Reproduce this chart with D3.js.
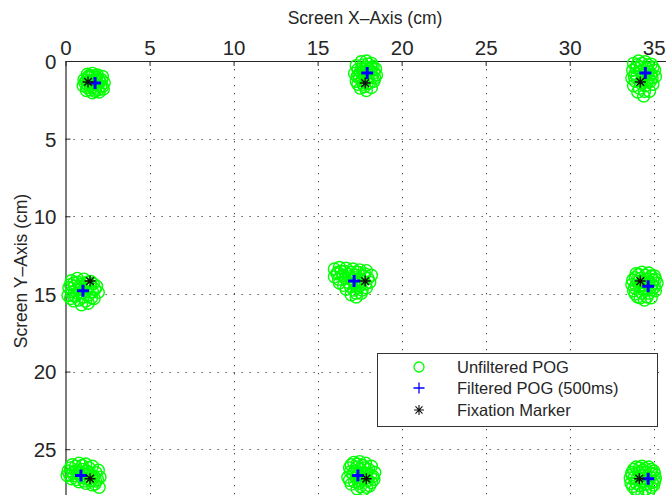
<!DOCTYPE html>
<html>
<head>
<meta charset="utf-8">
<script src="https://cdn.jsdelivr.net/npm/d3@7"></script>
<style>
  html, body { margin: 0; padding: 0; background: #fff; }
  svg { display: block; font-family: "Liberation Sans", Arial, sans-serif; }
</style>
</head>
<body>
<svg id="chart" width="666" height="495"></svg>
<script>
// Gaze samples on a 3x3 calibration grid (screen coordinates in cm)
const xTicks = [0, 5, 10, 15, 20, 25, 30, 35];
const yTicks = [0, 5, 10, 15, 20, 25];

const rawTopLeft = [[1.1,1.2],[1.3,0.85],[1.6,0.8],[1.9,0.9],[2.2,1.0],[2.3,1.4],[2.25,1.8],[2.0,2.0],[1.6,2.05],[1.25,1.9],[1.05,1.6],[1.4,1.3],[1.7,1.2],[1.9,1.5],[1.5,1.6],[1.8,1.75],[2.0,1.2],[1.35,1.05],[1.15,1.4],[1.65,1.45],[2.1,1.6],[1.45,1.85],
  [1.3,1.5],[1.55,1.0],[1.75,0.95],[2.05,1.35],[1.85,1.3],[1.6,1.3],[1.3,1.7],[1.75,1.95],[2.15,1.2],[1.25,1.25],[1.5,1.45],[1.95,1.85],[1.4,0.95],[2.2,1.65],[1.6,1.7],[1.85,1.05]];
const rawTopMid = [[17.3,0.3],[17.6,0.05],[17.9,0.0],[18.2,0.15],[18.45,0.5],[18.5,0.9],[18.35,1.3],[18.2,1.7],[17.9,1.9],[17.55,1.75],[17.3,1.3],[17.2,0.8],[17.6,0.5],[17.9,0.4],[18.15,0.7],[17.75,0.9],[18.0,1.1],[17.5,1.1],[18.1,1.4],[17.7,1.5],[17.85,0.7],[18.3,0.35],
  [17.4,0.55],[17.45,0.9],[17.7,0.25],[18.0,0.2],[18.35,0.75],[18.25,1.05],[17.65,1.25],[17.95,1.45],[17.4,1.5],[18.05,0.55],[17.8,1.65],[17.55,0.7],[18.4,1.1],[17.35,1.0],[18.2,0.45],[17.75,0.55]];
const rawTopRight = [[33.8,0.15],[34.1,0.0],[34.5,0.05],[34.85,0.2],[35.05,0.6],[35.1,1.0],[34.95,1.5],[34.75,1.95],[34.4,2.25],[34.05,2.0],[33.8,1.6],[33.7,1.1],[33.75,0.6],[34.2,0.4],[34.6,0.5],[34.4,0.9],[34.0,1.0],[34.7,1.1],[34.2,1.4],[34.5,1.6],[34.85,0.85],[33.95,0.45],
  [33.9,0.8],[34.3,0.15],[34.65,0.25],[34.95,0.4],[34.25,0.65],[33.9,1.3],[34.3,1.15],[34.6,1.35],[34.8,1.3],[34.15,1.75],[34.45,1.95],[34.7,0.7],[34.0,0.25],[34.55,0.85],[33.85,1.0],[34.9,1.1]];
const rawMidLeft = [[0.2,14.6],[0.35,14.15],[0.7,14.0],[1.1,14.05],[1.5,14.2],[1.85,14.5],[1.95,14.9],[1.7,15.3],[1.35,15.6],[0.95,15.7],[0.5,15.45],[0.15,15.1],[0.55,14.5],[0.9,14.4],[1.3,14.6],[1.6,14.85],[0.7,14.95],[1.05,15.2],[1.4,15.05],[0.4,14.85],[0.85,14.7],[1.2,14.35],
  [0.3,14.4],[0.45,15.1],[0.75,14.25],[1.0,14.6],[1.25,14.85],[1.5,14.45],[1.75,14.7],[1.55,15.25],[1.2,15.45],[0.8,15.4],[0.3,15.3],[0.6,15.15],[1.0,14.9],[1.65,14.35],[0.5,14.3],[1.3,14.25]];
const rawCenter = [[16.0,13.4],[16.3,13.3],[16.7,13.35],[17.1,13.4],[17.5,13.45],[17.9,13.5],[18.2,13.8],[18.1,14.25],[17.9,14.6],[17.6,14.95],[17.3,15.2],[17.0,15.05],[16.7,14.7],[16.3,14.3],[16.0,13.9],[16.5,13.8],[16.9,13.9],[17.3,13.8],[17.6,14.1],[17.2,14.3],[16.8,14.25],[17.4,14.6],[17.75,13.85],[16.4,13.55],
  [16.2,13.6],[16.6,13.55],[17.0,13.6],[17.4,13.6],[17.8,13.7],[18.0,14.0],[17.85,14.35],[17.55,14.45],[17.15,14.75],[16.95,14.5],[16.55,14.45],[16.25,14.05],[16.65,14.0],[17.05,14.1],[17.45,14.3],[17.3,14.95],[17.65,14.75],[16.85,13.75],[17.2,13.95],[16.15,13.7]];
const rawMidRight = [[33.75,14.1],[33.95,13.7],[34.3,13.6],[34.7,13.65],[35.05,13.85],[35.2,14.3],[35.1,14.8],[34.85,15.25],[34.45,15.4],[34.05,15.2],[33.8,14.8],[33.7,14.4],[34.2,14.0],[34.6,14.05],[34.9,14.4],[34.5,14.6],[34.15,14.5],[34.7,14.95],[34.3,14.95],[33.95,14.45],[34.95,14.1],[34.4,14.25],
  [33.9,13.95],[34.1,13.75],[34.5,13.8],[34.85,13.85],[35.1,14.05],[35.05,14.55],[34.9,14.75],[34.6,15.2],[34.2,15.25],[33.9,15.0],[33.85,14.6],[34.4,14.75],[34.05,14.2],[34.7,14.3],[34.3,14.4],[34.8,14.6]];
const rawBottomLeft = [[0.15,26.4],[0.4,26.0],[0.8,25.9],[1.2,25.95],[1.6,26.1],[1.95,26.35],[2.05,26.8],[2.0,27.45],[1.6,27.3],[1.2,27.2],[0.8,27.1],[0.35,26.9],[0.1,26.7],[0.6,26.4],[1.0,26.3],[1.4,26.5],[1.7,26.75],[0.9,26.75],[1.3,26.9],[0.5,26.7],[1.15,26.6],[1.8,27.05],
  [0.3,26.2],[0.6,26.1],[1.0,26.05],[1.4,26.2],[1.8,26.5],[1.9,26.95],[1.5,27.05],[1.1,27.05],[0.65,26.95],[0.25,26.65],[0.75,26.55],[1.25,26.4],[1.55,26.7],[1.05,26.85],[0.45,26.5],[1.75,27.25]];
const rawBottomMid = [[16.9,26.2],[17.15,25.85],[17.5,25.8],[17.85,25.9],[18.2,26.1],[18.4,26.5],[18.35,26.95],[18.1,27.35],[17.75,27.6],[17.35,27.55],[17.0,27.25],[16.8,26.8],[17.2,26.4],[17.55,26.3],[17.9,26.55],[17.65,26.9],[17.3,26.85],[18.0,27.0],[17.45,27.2],[17.1,26.6],[17.8,26.2],[18.15,26.65],
  [17.0,26.0],[17.35,25.95],[17.7,26.05],[18.05,26.3],[18.3,26.75],[18.2,27.15],[17.9,27.45],[17.55,27.4],[17.2,27.1],[16.95,26.45],[16.9,27.0],[17.4,26.6],[17.75,26.7],[17.55,27.05],[17.35,26.15],[17.95,26.85]];
const rawBottomRight = [[33.7,26.5],[33.95,26.15],[34.3,26.1],[34.7,26.15],[35.0,26.4],[35.1,26.85],[35.0,27.3],[34.7,27.7],[34.3,27.8],[33.9,27.6],[33.65,27.2],[33.6,26.85],[34.1,26.5],[34.5,26.5],[34.8,26.8],[34.4,26.9],[34.0,26.95],[34.6,27.25],[34.2,27.35],[33.85,26.8],[34.85,26.55],
  [33.8,26.3],[34.15,26.2],[34.5,26.25],[34.85,26.3],[35.05,26.6],[35.05,27.05],[34.85,27.45],[34.5,27.6],[34.05,27.7],[33.75,27.4],[33.7,26.65],[34.25,26.7],[34.65,27.0],[34.3,27.1],[33.95,27.2],[34.9,27.15],[34.35,26.35]];

// 500 ms moving-window output per target
const filtered = [[1.76,1.42],[17.95,0.77],[34.5,0.77],[1.04,14.8],[17.17,14.17],[34.67,14.5],[0.92,26.7],[17.4,26.7],[34.67,26.9]];
// Fixation target positions
const fixations = [[1.34,1.35],[17.83,1.42],[34.2,1.35],[1.46,14.17],[17.83,14.17],[34.2,14.17],[1.46,26.9],[17.9,26.9],[34.14,26.9]];

const legendLabels = ["Unfiltered POG", "Filtered POG (500ms)", "Fixation Marker"];

(function draw() {
  const unfiltered = [].concat(rawTopLeft, rawTopMid, rawTopRight, rawMidLeft, rawCenter,
                               rawMidRight, rawBottomLeft, rawBottomMid, rawBottomRight);

  const svg = d3.select("#chart");
  const mLeft = 65.5, mTop = 61, mRight = 665.5, mBottom = 495;
  const ink = "#262626";

  const x = d3.scaleLinear().domain([0, 35.7]).range([mLeft, mRight]);
  const y = d3.scaleLinear().domain([0, 27.95]).range([mTop, mBottom]);

  // dotted grid
  const grid = svg.append("g").attr("stroke", "#444").attr("stroke-width", 1)
    .attr("stroke-dasharray", "1.3,6.7");
  grid.selectAll("line.vx").data(xTicks.filter(d => d > 0)).join("line")
    .attr("x1", d => Math.round(x(d)) + 0.5).attr("x2", d => Math.round(x(d)) + 0.5)
    .attr("y1", mTop).attr("y2", mBottom);
  grid.selectAll("line.hy").data(yTicks.filter(d => d > 0)).join("line")
    .attr("y1", d => Math.round(y(d)) + 0.5).attr("y2", d => Math.round(y(d)) + 0.5)
    .attr("x1", mLeft).attr("x2", mRight);

  // axes on top and left, ticks pointing inward
  const xAxis = d3.axisTop(x).tickValues(xTicks).tickSizeInner(-5).tickSizeOuter(0).tickPadding(6);
  const yAxis = d3.axisLeft(y).tickValues(yTicks).tickSizeInner(-5).tickSizeOuter(0).tickPadding(9);

  const gx = svg.append("g").attr("transform", `translate(0,${mTop})`).call(xAxis);
  const gy = svg.append("g").attr("transform", `translate(${mLeft},0)`).call(yAxis);
  [gx, gy].forEach(g => {
    g.select(".domain").attr("stroke", ink).attr("stroke-width", 1.2);
    g.selectAll(".tick line").attr("stroke", ink);
    g.selectAll(".tick text").attr("fill", ink).attr("font-size", 20.5)
      .attr("font-family", "Liberation Sans, Arial, sans-serif");
  });
  gy.selectAll(".tick text").attr("dy", "0.36em");

  // axis titles
  svg.append("text").attr("x", 365).attr("y", 24).attr("text-anchor", "middle")
    .attr("font-size", 17.5).attr("fill", ink).text("Screen X\u2013Axis (cm)");
  svg.append("text").attr("transform", "translate(27,271) rotate(-90)").attr("text-anchor", "middle")
    .attr("font-size", 17.5).attr("fill", ink).text("Screen Y\u2013Axis (cm)");

  // marker shapes
  const plusPath = s => `M${-s},0H${s}M0,${-s}V${s}`;
  const starPath = s => {
    const d = s * Math.SQRT1_2;
    return `M${-s},0H${s}M0,${-s}V${s}M${-d},${-d}L${d},${d}M${-d},${d}L${d},${-d}`;
  };

  const plot = svg.append("g");
  plot.selectAll("circle.raw").data(unfiltered).join("circle")
    .attr("cx", d => x(d[0])).attr("cy", d => y(d[1])).attr("r", 6)
    .attr("fill", "none").attr("stroke", "#00ff00").attr("stroke-width", 1.4);

  plot.selectAll("path.filt").data(filtered).join("path")
    .attr("transform", d => `translate(${x(d[0])},${y(d[1])})`)
    .attr("d", plusPath(6)).attr("stroke", "#0000ff").attr("stroke-width", 3).attr("fill", "none");

  plot.selectAll("path.fix").data(fixations).join("path")
    .attr("transform", d => `translate(${x(d[0])},${y(d[1])})`)
    .attr("d", starPath(5.5)).attr("stroke", "#111").attr("stroke-width", 1.4).attr("fill", "none");

  // legend
  const lg = svg.append("g");
  lg.append("rect").attr("x", 377.5).attr("y", 353.5).attr("width", 280).attr("height", 73)
    .attr("fill", "#fff").attr("stroke", "#333").attr("stroke-width", 1);
  const rowY = [367, 388, 410];
  lg.append("circle").attr("cx", 419).attr("cy", rowY[0]).attr("r", 5)
    .attr("fill", "none").attr("stroke", "#00ff00").attr("stroke-width", 1.3);
  lg.append("path").attr("transform", `translate(419,${rowY[1]})`).attr("d", plusPath(5.5))
    .attr("stroke", "#0000ff").attr("stroke-width", 1.3).attr("fill", "none");
  lg.append("path").attr("transform", `translate(419,${rowY[2]})`).attr("d", starPath(5))
    .attr("stroke", "#111").attr("stroke-width", 1.1).attr("fill", "none");
  lg.selectAll("text").data(legendLabels).join("text")
    .attr("x", 457).attr("y", (d, i) => rowY[i]).attr("dy", "0.35em")
    .attr("font-size", 16.5).attr("fill", ink).text(d => d);
})();
</script>
</body>
</html>
